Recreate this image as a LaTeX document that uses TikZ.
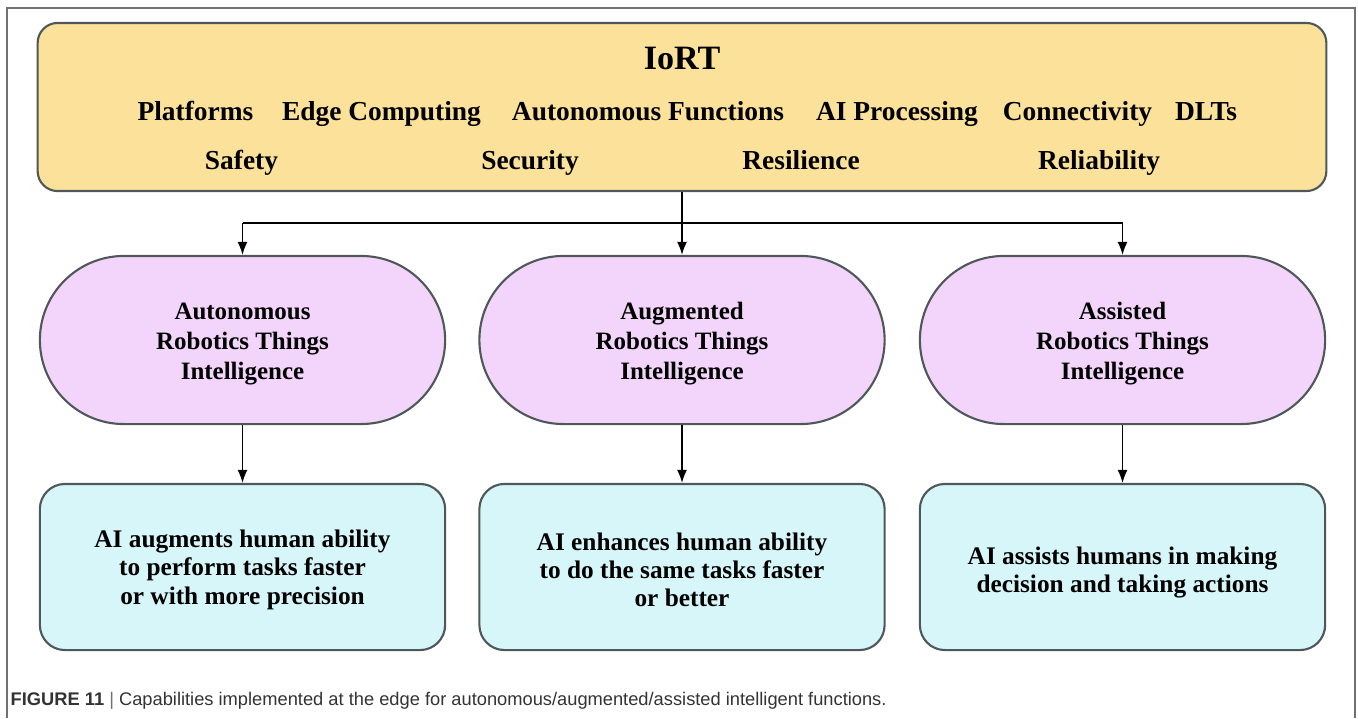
\documentclass[tikz,border=0pt]{standalone}
\usepackage{fontspec}
\setmainfont{Liberation Serif}
\newfontfamily\captionfont{Liberation Sans}
\usetikzlibrary{arrows.meta}
\definecolor{iortfill}{HTML}{FCE19B}
\definecolor{pillfill}{HTML}{F3D5FB}
\definecolor{boxfill}{HTML}{D6F6FA}
\definecolor{bordegris}{HTML}{4F5858}
\definecolor{marcogris}{HTML}{707070}
\definecolor{textogris}{HTML}{333333}

\begin{document}
\begin{tikzpicture}[x=0.01cm,y=-0.01cm]
% Configuración de estilos
\tikzstyle{capa} = [rectangle, rounded corners=0.2cm, draw=bordegris, line width=0.6pt, fill=iortfill, minimum width=12.88cm, minimum height=1.68cm]
\tikzstyle{rasgo} = [anchor=base, inner sep=0pt, font=\fontsize{7.8pt}{9pt}\selectfont\bfseries]
\tikzstyle{pildora} = [rectangle, rounded corners=0.84cm, draw=bordegris, line width=0.6pt, fill=pillfill, minimum width=4.05cm, minimum height=1.68cm, align=center, font=\fontsize{7.1pt}{8.5pt}\selectfont\bfseries]
\tikzstyle{caja} = [rectangle, rounded corners=0.25cm, draw=bordegris, line width=0.6pt, fill=boxfill, minimum width=4.05cm, minimum height=1.66cm, align=center, font=\fontsize{7.2pt}{8.1pt}\selectfont\bfseries]
\tikzstyle{flecha} = [-{Latex[length=1.3mm,width=1mm]}, line width=0.4pt]

\useasboundingbox (0,0) rectangle (1358,718);
\draw[marcogris, line width=0.6pt] (7,718) -- (7,8) -- (1355,8) -- (1355,718);

% Capa IoRT
\node[capa] (iort) at (682,107) {};
\node[rasgo, font=\fontsize{9.7pt}{11pt}\selectfont\bfseries] (titulo) at (682,69) {IoRT};

\node[rasgo] (plat) at (195.5,120) {Platforms};
\node[rasgo] (edge) at (381.5,120) {Edge Computing};
\node[rasgo] (func) at (648,120) {Autonomous Functions};
\node[rasgo] (proc) at (897,120) {AI Processing};
\node[rasgo] (conn) at (1077.5,120) {Connectivity};
\node[rasgo] (dlts) at (1206,120) {DLTs};

\node[rasgo] (safe) at (241.5,169) {Safety};
\node[rasgo] (secu) at (530,169) {Security};
\node[rasgo] (resi) at (801,169) {Resilience};
\node[rasgo] (reli) at (1099,169) {Reliability};

% Tipos de inteligencia
\node[pildora] (auto) at (242.5,340) {\rule{0pt}{7pt}Autonomous\\Robotics Things\\Intelligence};
\node[pildora] (aum) at (682,340) {\rule{0pt}{7pt}Augmented\\Robotics Things\\Intelligence};
\node[pildora] (asis) at (1122.5,340) {\rule{0pt}{7pt}Assisted\\Robotics Things\\Intelligence};

% Descripciones
\node[caja] (dauto) at (242.5,567) {\rule{0pt}{6.6pt}AI augments human ability\\to perform tasks faster\\or with more precision};
\node[caja] (daum) at (682,567) {\rule{0pt}{6.6pt}AI enhances human ability\\to do the same tasks faster\\or better};
\node[caja] (dasis) at (1122.5,567) {\rule{0pt}{8pt}AI assists humans in making\\decision and taking actions};

% Conexiones
\coordinate (reparto) at (682,223);
\draw[line width=0.4pt] (iort.south) -- (reparto);
\draw[line width=0.4pt] (reparto -| auto.north) -- (reparto -| asis.north);
\foreach \p in {auto,aum,asis}
  \draw[flecha] (reparto -| \p.north) -- (\p.north);
\foreach \p/\d in {auto/dauto,aum/daum,asis/dasis}
  \draw[flecha] (\p) -- (\d);

% Pie de figura
\node[anchor=base west, inner sep=0pt, text=textogris, font=\captionfont\fontsize{5.2pt}{6pt}\selectfont] (leyenda) at (10,705) {\textbf{FIGURE 11} {\color{marcogris}|} Capabilities implemented at the edge for autonomous/augmented/assisted intelligent functions.};
\end{tikzpicture}
\end{document}
